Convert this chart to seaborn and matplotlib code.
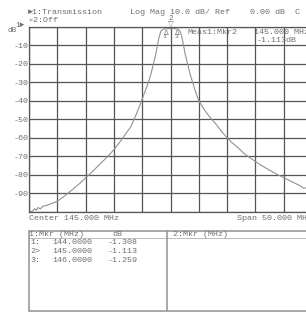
import seaborn as sns
import pandas as pd
import matplotlib.pyplot as plt

# trace 1 (MHz, dB)
freq_mhz = [120.0, 120.5, 121.0, 121.3, 121.6, 122.0, 122.5, 123.0, 124.0, 125.0,
            126.0, 127.0, 128.0, 129.0, 130.0, 131.0, 132.0, 133.0, 134.0, 135.0,
            136.0, 137.0, 138.0, 139.0, 139.9, 140.5, 141.1, 141.6, 142.0, 142.4,
            142.7, 143.0, 143.3, 143.6, 144.0, 144.5, 145.0, 145.5, 146.0, 146.4,
            146.7, 147.0, 147.3, 147.6, 148.0, 148.4, 148.9, 149.4, 150.0, 151.0,
            152.0, 153.0, 154.0, 155.0, 156.0, 157.0, 158.0, 159.0, 160.0, 161.0,
            162.0, 163.0, 164.0, 165.0, 166.0, 167.0, 168.0, 168.5, 169.0, 170.0]
trace_db = [-99.6, -99.8, -98.2, -99.0, -97.6, -98.3, -96.8, -96.6, -95.4, -94.2,
            -92.0, -89.6, -87.1, -84.5, -81.6, -78.8, -75.8, -72.8, -69.7, -66.4,
            -62.5, -58.2, -54.0, -47.0, -40.0, -35.0, -30.0, -25.0, -20.0, -15.0,
            -10.0, -5.5, -2.6, -1.7, -1.31, -1.2, -1.11, -1.15, -1.26, -1.6,
            -2.5, -5.5, -10.0, -15.0, -20.0, -25.0, -30.0, -35.0, -40.0, -45.0,
            -49.0, -52.5, -56.5, -60.0, -63.0, -65.5, -68.5, -70.7, -72.7, -74.8,
            -76.6, -78.3, -80.0, -81.5, -83.0, -84.5, -86.0, -87.2, -87.0, -88.0]

mkr_names = ["1:", "2>", "3:"]
mkr_freq = [144.0, 145.0, 146.0]
mkr_db = [-1.308, -1.113, -1.259]

y_ticks = [-10, -20, -30, -40, -50, -60, -70, -80, -90]

W, H = 306, 312
GRID = "#555555"
TXT = "#6e6e6e"
MONO = ["Liberation Mono", "DejaVu Sans Mono"]

sns.set_style("white")
plt.rcParams['font.family'] = MONO

fig = plt.figure(figsize=(W / 100, H / 100), dpi=100)
fig.patch.set_facecolor("white")

# graticule: 10 x 10 divisions, right part runs off the screen
left, top, bottom, width = 29, 26.5, 212, 283
ax = fig.add_axes([left / W, 1 - bottom / H, width / W, (bottom - top) / H])
df = pd.DataFrame({"MHz": freq_mhz, "dB": trace_db})
sns.lineplot(data=df, x="MHz", y="dB", ax=ax, color="#929292", linewidth=0.8)
ax.set_xlim(120, 170)
ax.set_ylim(-100, 0)
ax.set_xticks([120 + 5 * i for i in range(11)])
ax.set_yticks([0] + y_ticks + [-100])
ax.grid(True, color=GRID, linewidth=0.9)
ax.set_xticklabels([])
ax.set_yticklabels([""] + [str(v) for v in y_ticks] + [""])
ax.tick_params(axis="y", length=0, pad=0, labelsize=6, labelcolor=TXT)
ax.tick_params(axis="x", length=0)
ax.set_xlabel("")
ax.set_ylabel("")
for s in ax.spines.values():
    s.set_color(GRID)
    s.set_linewidth(0.9)

# markers on the trace
for n, f, d in zip(mkr_names, mkr_freq, mkr_db):
    if n.startswith("2"):
        # active marker sits above the trace, pointing down at it
        ax.annotate("\u25bd", (f, d), xytext=(0, 1), textcoords="offset points",
                    ha="center", va="bottom", fontsize=5.5, color="#777777",
                    family=["DejaVu Sans"], annotation_clip=False)
        ax.annotate("2", (f, d), xytext=(0, 5), textcoords="offset points",
                    ha="center", va="bottom", fontsize=5.5, color=TXT, annotation_clip=False)
    else:
        ax.annotate("\u2206", (f, d), xytext=(0, -1), textcoords="offset points",
                    ha="center", va="top", fontsize=5, color="#777777", family=["DejaVu Sans"])
        ax.annotate(n[0], (f, d), xytext=(0, -4), textcoords="offset points",
                    ha="center", va="top", fontsize=4.5, color=TXT)

# overlay in pixel units for the screen text and the marker table
ov = fig.add_axes([0, 0, 1, 1], facecolor="none")
ov.set_xlim(0, W)
ov.set_ylim(H, 0)
ov.axis("off")

def txt(x, y, s, **kw):
    kw.setdefault("fontsize", 6)
    kw.setdefault("color", TXT)
    ov.text(x, y, s, va="center", ha=kw.pop("ha", "left"), family=MONO, **kw)

txt(28, 12, "\u25ba1:Transmission")
txt(130, 12, "Log Mag 10.0 dB/ Ref")
txt(250, 12, "0.00 dB  C")
txt(28, 20.5, "\u25b92:Off")
txt(15, 25, "1\u25ba", fontsize=5.5)
txt(7, 30.5, "dB", fontsize=5.5)
txt(188, 33, "Meas1:Mkr2")
txt(254, 32, "%.3f MHz" % mkr_freq[1])
txt(257, 40, "%.3fdB" % mkr_db[1])
txt(29, 219, "Center 145.000 MHz")
txt(237, 219, "Span 50.000 MHz")

# marker table
tc = "#9a9a9a"
ov.plot([29, 320], [231, 231], color=tc, lw=1.2)
ov.plot([29, 320], [238, 238], color="#bbbbbb", lw=0.7)
ov.plot([29, 320], [311, 311], color=tc, lw=1.2)
ov.plot([29, 29], [231, 311], color=tc, lw=1.2)
ov.plot([167, 167], [231, 311], color=tc, lw=1.2)
txt(29, 235, "1:Mkr (MHz)")
txt(112, 235, "dB")
txt(173, 235, "2:Mkr (MHz)")
for i, (n, f, d) in enumerate(zip(mkr_names, mkr_freq, mkr_db)):
    y = 243 + 8.5 * i
    txt(30, y, n)
    txt(52, y, "%.4f" % f)
    txt(108, y, "%.3f" % d)

fig.savefig("out.png", dpi=100)
